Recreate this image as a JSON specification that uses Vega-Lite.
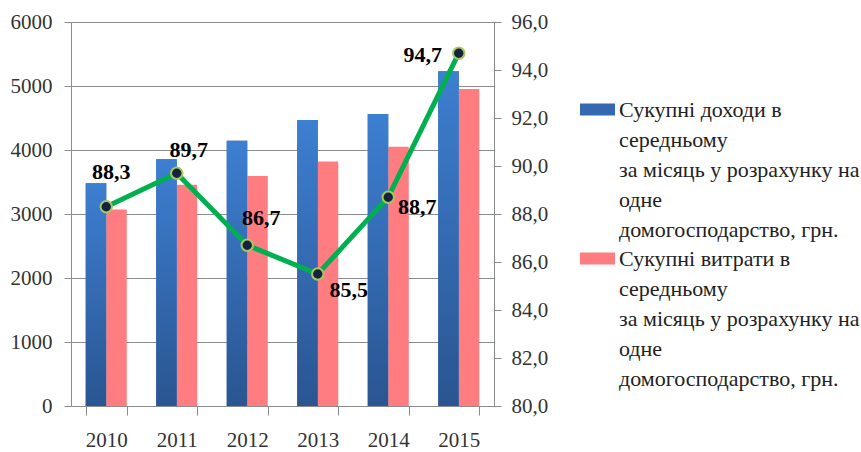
{
  "$schema": "https://vega.github.io/schema/vega-lite/v6.json",
  "width": 423,
  "height": 384,
  "autosize": {"type": "none"},
  "padding": {"left": 71, "top": 22, "right": 367, "bottom": 46},
  "background": "white",
  "data": {
    "values": [
      {"year": "2010", "income": 3481, "expense": 3072, "ratio": 88.3},
      {"year": "2011", "income": 3854, "expense": 3456, "ratio": 89.7},
      {"year": "2012", "income": 4145, "expense": 3592, "ratio": 86.7},
      {"year": "2013", "income": 4470, "expense": 3820, "ratio": 85.5},
      {"year": "2014", "income": 4563, "expense": 4049, "ratio": 88.7},
      {"year": "2015", "income": 5232, "expense": 4952, "ratio": 94.7}
    ]
  },
  "encoding": {
    "x": {
      "field": "year",
      "type": "nominal",
      "scale": {"paddingInner": 0.418, "paddingOuter": 0.209},
      "axis": {
        "title": null,
        "labelAngle": 0,
        "tickBand": "extent",
        "tickSize": 9,
        "labelPadding": 14,
        "domainColor": "#8c8c8c",
        "tickColor": "#8c8c8c",
        "labelFontSize": 21,
        "labelColor": "#333333"
      }
    }
  },
  "layer": [
    {
      "transform": [{"fold": ["income", "expense"], "as": ["key", "value"]}],
      "encoding": {
        "y": {
          "field": "value",
          "type": "quantitative",
          "scale": {"domain": [0, 6000], "nice": false},
          "axis": {
            "title": null,
            "values": [0, 1000, 2000, 3000, 4000, 5000, 6000],
            "format": "d",
            "grid": true,
            "gridColor": "#8c8c8c",
            "domainColor": "#8c8c8c",
            "tickColor": "#8c8c8c",
            "tickSize": 7,
            "labelPadding": 12,
            "labelFontSize": 21,
            "labelColor": "#333333"
          }
        },
        "xOffset": {
          "field": "key",
          "type": "nominal",
          "scale": {"domain": ["income", "expense"], "paddingInner": 0, "paddingOuter": 0}
        }
      },
      "layer": [
        {
          "mark": {"type": "bar"},
          "encoding": {
            "color": {
              "field": "key",
              "type": "nominal",
              "scale": {"domain": ["income", "expense"], "range": ["#3468b0", "#ff7c80"]},
              "legend": {
                "title": null,
                "orient": "none",
                "legendX": 509,
                "legendY": 70,
                "direction": "vertical",
                "padding": 0,
                "symbolType": "M-1,-0.343H1V0.343H-1Z",
                "symbolSize": 1225,
                "symbolStrokeWidth": 0,
                "labelFontSize": 22,
                "labelColor": "#222222",
                "labelLimit": 0,
                "labelOffset": 4,
                "labelBaseline": "middle",
                "rowPadding": -2,
                "labelExpr": "datum.value == 'income' ? ['Сукупні доходи в', 'середньому', 'за місяць у розрахунку на', 'одне', 'домогосподарство, грн.'] : ['Сукупні витрати в', 'середньому', 'за місяць у розрахунку на', 'одне', 'домогосподарство, грн.']"
              }
            }
          }
        },
        {
          "transform": [{"filter": "datum.key == 'income'"}],
          "mark": {
            "type": "bar",
            "color": {
              "gradient": "linear",
              "x1": 0, "y1": 0, "x2": 0, "y2": 1,
              "stops": [
                {"offset": 0, "color": "#3d7fd1"},
                {"offset": 1, "color": "#2a5591"}
              ]
            }
          }
        }
      ]
    },
    {
      "encoding": {
        "y": {
          "field": "ratio",
          "type": "quantitative",
          "scale": {"domain": [80, 96], "nice": false},
          "axis": {
            "title": null,
            "orient": "right",
            "values": [80, 82, 84, 86, 88, 90, 92, 94, 96],
            "format": ".1f",
            "grid": false,
            "domainColor": "#8c8c8c",
            "tickColor": "#8c8c8c",
            "tickSize": 7,
            "labelPadding": 10,
            "labelFontSize": 21,
            "labelColor": "#333333"
          }
        }
      },
      "layer": [
        {"mark": {"type": "line", "color": "#00b050", "strokeWidth": 5}},
        {
          "mark": {
            "type": "point",
            "filled": true,
            "fill": "#15233f",
            "stroke": "#a5c860",
            "strokeWidth": 2,
            "size": 130,
            "opacity": 1
          }
        },
        {
          "transform": [{"filter": "datum.year == '2010'"}],
          "mark": {"type": "text", "fontWeight": "bold", "fontSize": 22, "color": "#000000", "dx": 5, "dy": -35},
          "encoding": {"text": {"field": "ratio", "format": ".1f"}}
        },
        {
          "transform": [{"filter": "datum.year == '2011'"}],
          "mark": {"type": "text", "fontWeight": "bold", "fontSize": 22, "color": "#000000", "dx": 12, "dy": -23},
          "encoding": {"text": {"field": "ratio", "format": ".1f"}}
        },
        {
          "transform": [{"filter": "datum.year == '2012'"}],
          "mark": {"type": "text", "fontWeight": "bold", "fontSize": 22, "color": "#000000", "dx": 14, "dy": -27},
          "encoding": {"text": {"field": "ratio", "format": ".1f"}}
        },
        {
          "transform": [{"filter": "datum.year == '2013'"}],
          "mark": {"type": "text", "fontWeight": "bold", "fontSize": 22, "color": "#000000", "dx": 31, "dy": 16},
          "encoding": {"text": {"field": "ratio", "format": ".1f"}}
        },
        {
          "transform": [{"filter": "datum.year == '2014'"}],
          "mark": {"type": "text", "fontWeight": "bold", "fontSize": 22, "color": "#000000", "dx": 29, "dy": 10},
          "encoding": {"text": {"field": "ratio", "format": ".1f"}}
        },
        {
          "transform": [{"filter": "datum.year == '2015'"}],
          "mark": {"type": "text", "fontWeight": "bold", "fontSize": 22, "color": "#000000", "dx": -36, "dy": 2},
          "encoding": {"text": {"field": "ratio", "format": ".1f"}}
        }
      ]
    }
  ],
  "resolve": {"scale": {"y": "independent"}},
  "config": {
    "view": {"stroke": null},
    "font": "Liberation Serif, Times New Roman, serif",
    "text": {"font": "Liberation Serif, Times New Roman, serif"},
    "axis": {"labelFont": "Liberation Serif, Times New Roman, serif"},
    "legend": {"labelFont": "Liberation Serif, Times New Roman, serif"},
    "locale": {
      "number": {"decimal": ",", "thousands": " ", "grouping": [3], "currency": ["", " грн."]}
    },
    "style": {"guide-label": {"lineHeight": 30}}
  }
}
